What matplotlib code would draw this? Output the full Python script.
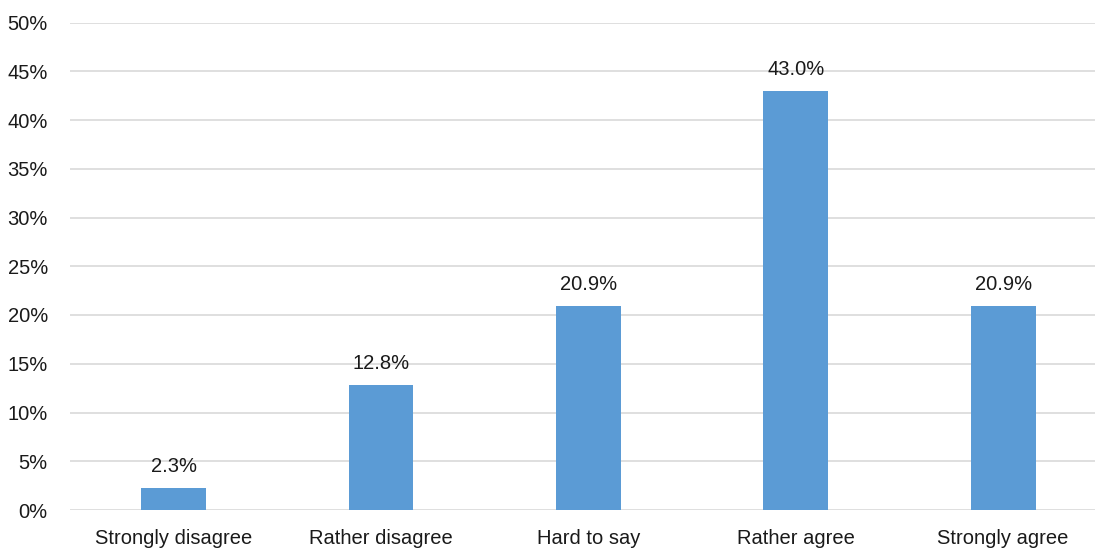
import matplotlib
matplotlib.use("Agg")
import matplotlib.pyplot as plt
import numpy as np

categories = ["Strongly disagree", "Rather disagree", "Hard to say", "Rather agree", "Strongly agree"]
values = [2.3, 12.8, 20.9, 43.0, 20.9]
yticks = [0, 5, 10, 15, 20, 25, 30, 35, 40, 45, 50]

plt.rcParams["font.family"] = ["Liberation Sans", "DejaVu Sans"]

fig = plt.figure(figsize=(10.95, 5.5), dpi=100)
ax = fig.add_axes([70 / 1095, 40 / 550, 1 - 70 / 1095, 487.5 / 550])

x = np.arange(len(categories))
ax.bar(x, values, width=0.313, color="#5B9BD5", zorder=3)

# value labels above bars
for xi, v in zip(x, values):
    ax.annotate("%.1f%%" % v, (xi, v), xytext=(0, 11.5), textcoords="offset points",
                ha="center", va="baseline", fontsize=14.5, color="#1a1a1a")

ax.set_xlim(-0.5, (1095 - 173.5) / 207.4)
ax.set_ylim(0, 50)
ax.set_yticks(yticks)
ax.set_yticklabels(["%d%%" % t for t in yticks])
ax.set_xticks(x)
ax.set_xticklabels(categories)
ax.tick_params(axis="both", length=0, labelsize=14.5, colors="#1a1a1a")
ax.tick_params(axis="y", pad=16)
ax.tick_params(axis="x", pad=14)
ax.grid(axis="y", color="#D9D9D9", linewidth=1.2, zorder=0)
for s in ax.spines.values():
    s.set_visible(False)

fig.savefig("out.png", dpi=100)
